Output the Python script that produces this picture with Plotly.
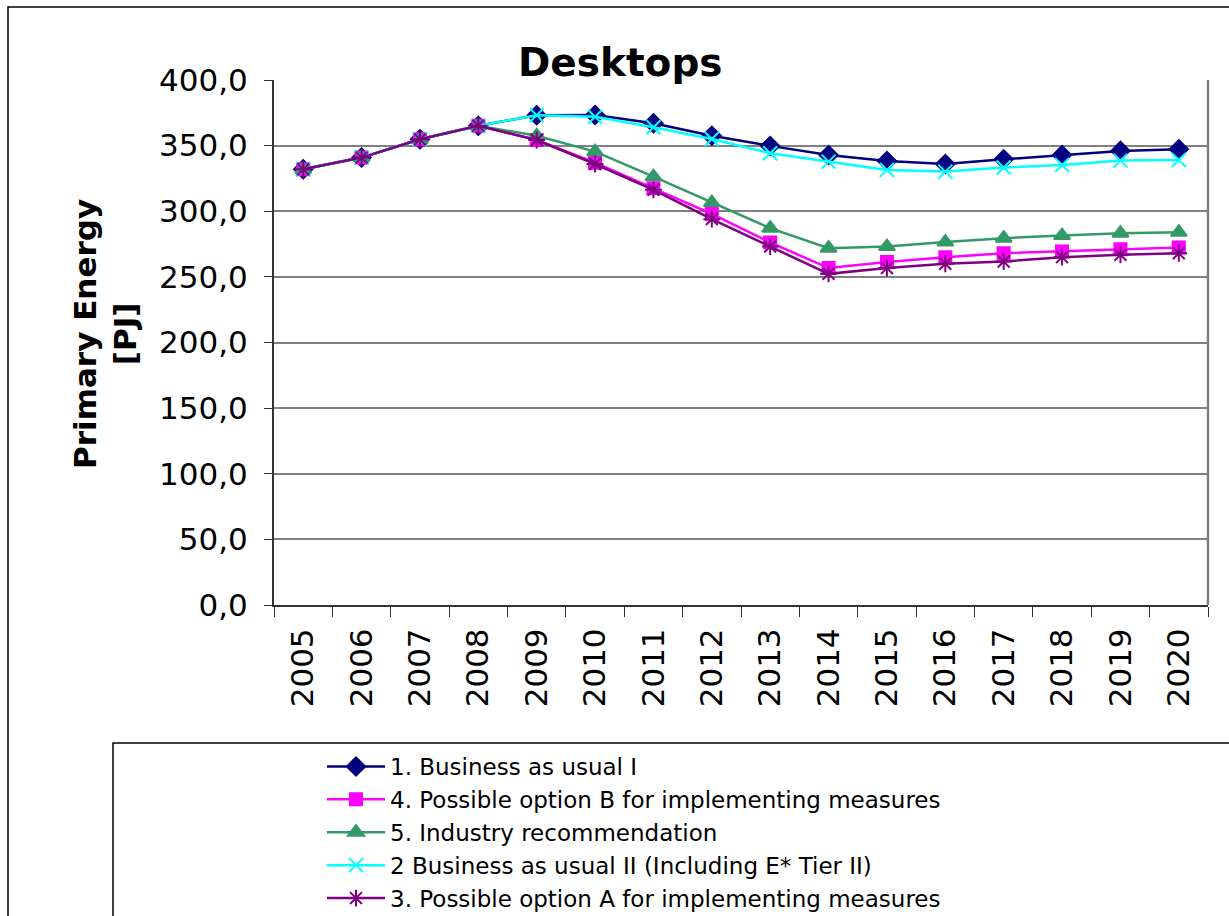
import plotly.graph_objects as go

years = [str(y) for y in range(2005, 2021)]

bau_1 = [332.0, 340.9, 354.8, 365.2, 373.1, 373.3, 367.0, 357.6, 349.8, 342.9,
         338.3, 336.0, 339.6, 342.9, 346.0, 347.2]
option_b = [332.0, 340.9, 354.8, 365.2, 354.3, 337.0, 317.5, 298.0, 276.2, 256.7,
            261.3, 265.0, 268.0, 269.3, 271.1, 272.4]
industry = [332.0, 340.9, 354.8, 365.2, 357.5, 345.4, 326.4, 306.6, 287.1, 271.9,
            273.1, 276.5, 279.5, 281.5, 283.3, 284.0]
bau_2 = [332.0, 340.9, 354.8, 365.2, 373.1, 372.0, 364.0, 355.0, 344.2, 337.8,
         331.5, 330.2, 333.3, 335.3, 338.6, 339.1]
option_a = [332.0, 340.9, 354.8, 365.2, 354.3, 336.0, 316.3, 294.0, 273.1, 252.3,
            256.7, 260.0, 261.7, 265.0, 266.8, 268.0]

series = [
    ("1. Business as usual I", bau_1, "#000080", "diamond", 14),
    ("4. Possible option B for implementing measures", option_b, "#FF00FF", "square", 12),
    ("5. Industry recommendation", industry, "#339966", "triangle-up", 14),
    ("2 Business as usual II (Including E* Tier II)", bau_2, "#00FFFF", "x-thin-open", 14),
    ("3. Possible option A for implementing measures", option_a, "#800080", "asterisk-open", 14),
]

W, H = 1229, 916
L, R, T, B = 274, 1208, 80, 605

def px_x(x):
    return (x - L) / (R - L)

def px_y(y):
    return (B - y) / (B - T)

fig = go.Figure()
for name, vals, color, sym, size in series:
    fig.add_trace(go.Scatter(
        x=years, y=vals, name=name, mode="lines+markers",
        line=dict(color=color, width=2.5),
        marker=dict(symbol=sym, size=size, color=color,
                    line=dict(color=color, width=2)),
    ))

font_main = "DejaVu Sans"

fig.update_layout(
    width=W, height=H,
    margin=dict(l=L, r=W - R, t=T, b=H - B, autoexpand=False),
    paper_bgcolor="white", plot_bgcolor="white",
    separators=",.",
    showlegend=True,
    legend=dict(
        xref="container", yref="container",
        x=322 / W, y=1 - 745 / H, xanchor="left", yanchor="top",
        bgcolor="rgba(0,0,0,0)", borderwidth=0,
        font=dict(family=font_main, size=23, color="black"),
        itemwidth=58, traceorder="normal",
    ),
    xaxis=dict(
        type="category", range=[-0.5, 15.5],
        tickangle=-90, tickson="boundaries",
        ticks="outside", ticklen=10, tickcolor="#333333",
        showline=True, linecolor="#333333", linewidth=2,
        showgrid=False, ticklabelstandoff=9,
        tickfont=dict(family=font_main, size=31, color="black"),
    ),
    yaxis=dict(
        range=[0, 400], dtick=50, tickformat=".1f",
        ticks="outside", ticklen=8, tickcolor="#333333",
        showline=True, linecolor="#333333", linewidth=2,
        showgrid=True, gridcolor="#808080", gridwidth=1.5,
        zeroline=False, ticklabelstandoff=10,
        tickfont=dict(family=font_main, size=31, color="black"),
    ),
    shapes=[
        # right edge of the plotting area
        dict(type="line", xref="paper", yref="paper", x0=1, x1=1, y0=0, y1=1,
             line=dict(color="#808080", width=2.5)),
        # outer chart frame
        dict(type="rect", xref="paper", yref="paper",
             x0=px_x(8), x1=px_x(1300), y0=px_y(1000), y1=px_y(7),
             line=dict(color="#000000", width=1.5)),
        # legend frame
        dict(type="rect", xref="paper", yref="paper",
             x0=px_x(113), x1=px_x(1300), y0=px_y(1000), y1=px_y(743),
             line=dict(color="#000000", width=1.5)),
    ],
    annotations=[
        dict(text="<b>Desktops</b>", xref="paper", yref="paper",
             x=px_x(620), y=px_y(62), xanchor="center", yanchor="middle",
             showarrow=False, font=dict(family=font_main, size=39, color="black")),
        dict(text="<b>Primary Energy<br>[PJ]</b>", xref="paper", yref="paper",
             x=px_x(105), y=px_y(334), xanchor="center", yanchor="middle",
             textangle=-90, showarrow=False,
             font=dict(family=font_main, size=31, color="black")),
    ],
)

fig.write_html("out.html")
